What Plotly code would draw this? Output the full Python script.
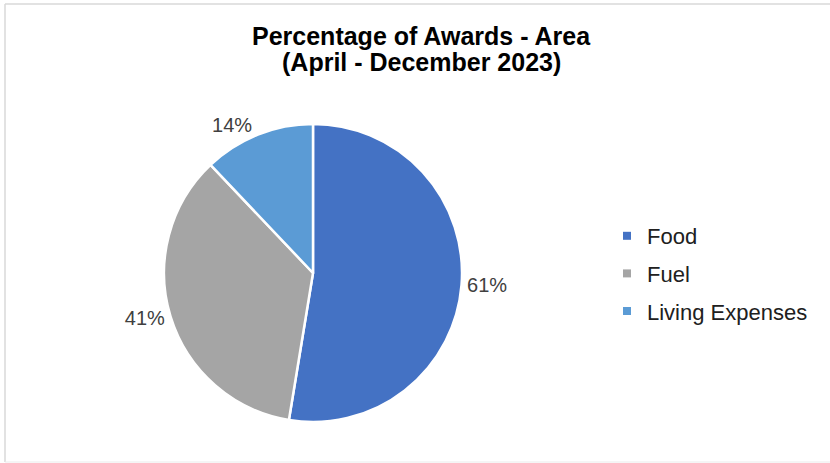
import plotly.graph_objects as go

categories = ["Food", "Fuel", "Living Expenses"]
values = [61, 41, 14]
colors = ["#4472C4", "#A5A5A5", "#5B9BD5"]
title_lines = ["Percentage of Awards - Area", "(April - December 2023)"]

W, H = 830, 463


def px(x):
    return x / W


def py(y):
    return 1 - y / H


cx, cy, r = 313, 273, 149
FONT = "Liberation Sans, Arial"

fig = go.Figure()
fig.add_trace(go.Pie(
    labels=categories, values=values, sort=False, direction="clockwise", rotation=0,
    marker=dict(colors=colors, line=dict(color="white", width=2.5)),
    texttemplate="%{value}%", textposition="outside",
    outsidetextfont=dict(family=FONT, size=20, color="#404040"),
    showlegend=False, hoverinfo="label+value",
    domain=dict(x=[px(cx - r), px(cx + r)], y=[py(cy + r), py(cy - r)]),
))
for name, col in zip(categories, colors):
    fig.add_trace(go.Scatter(
        x=[None], y=[None], mode="markers", name=name, legendgroup=name,
        marker=dict(symbol="square", size=8, color=col),
    ))

fig.add_annotation(text="<b>" + title_lines[0] + "</b>", x=px(421), y=py(36),
                   xref="paper", yref="paper", xanchor="center", yanchor="middle",
                   showarrow=False, font=dict(family=FONT, size=25, color="#000000"))
fig.add_annotation(text="<b>" + title_lines[1] + "</b>", x=px(421), y=py(62),
                   xref="paper", yref="paper", xanchor="center", yanchor="middle",
                   showarrow=False, font=dict(family=FONT, size=25, color="#000000"))

border = dict(color="#D9D9D9", width=1.5)
fig.add_shape(type="line", xref="paper", yref="paper", x0=px(5), x1=1, y0=py(4), y1=py(4), line=border)
fig.add_shape(type="line", xref="paper", yref="paper", x0=px(5), x1=px(5), y0=py(4), y1=py(462), line=border)
fig.add_shape(type="line", xref="paper", yref="paper", x0=px(5), x1=1, y0=py(462), y1=py(462),
              line=dict(color="#EBEBEB", width=1))

fig.update_layout(
    width=W, height=H,
    margin=dict(l=0, r=0, t=0, b=0),
    paper_bgcolor="white", plot_bgcolor="white",
    xaxis=dict(visible=False), yaxis=dict(visible=False),
    legend=dict(x=px(607), y=py(273.5), xanchor="left", yanchor="middle",
                font=dict(family=FONT, size=22, color="#202020"),
                traceorder="grouped", tracegroupgap=6, bgcolor="rgba(0,0,0,0)"),
    showlegend=True,
)

fig.write_html("out.html", config={"displayModeBar": False},
               post_script="document.body.style.margin='0px';document.body.style.overflow='hidden';"
                           "document.documentElement.style.overflow='hidden';")
